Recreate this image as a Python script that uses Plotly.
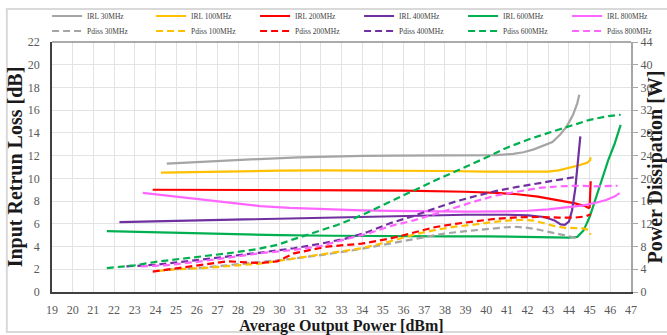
import plotly.graph_objects as go

# ---- Input return loss (left axis, dB) ----
irl30_x = [24.55, 26, 27.5, 29, 30.9, 32.5, 34, 35.5, 37, 39, 40.5, 41.3, 41.8, 42.3, 42.8, 43.2, 43.6, 43.9, 44.2, 44.4, 44.5]
irl30_y = [11.3, 11.45, 11.58, 11.7, 11.85, 11.93, 11.98, 12.0, 12.0, 12.0, 12.05, 12.15, 12.3, 12.55, 12.9, 13.2, 13.9, 14.6, 15.6, 16.6, 17.35]

irl100_x = [24.27, 26, 28, 30, 32, 34, 36, 38, 40, 42, 43.0, 43.5, 44.0, 44.5, 44.9, 45.02, 45.05]
irl100_y = [10.5, 10.57, 10.63, 10.68, 10.7, 10.7, 10.68, 10.65, 10.6, 10.58, 10.6, 10.7, 10.9, 11.15, 11.4, 11.6, 11.85]

irl200_x = [23.87, 26, 28, 30, 32, 34, 36, 37.5, 39, 40.5, 41.5, 42.5, 43.5, 44.3, 44.8, 44.95, 45.0, 45.03, 45.05]
irl200_y = [9.0, 9.0, 9.0, 8.98, 8.97, 8.95, 8.92, 8.88, 8.82, 8.72, 8.6, 8.4, 8.1, 7.8, 7.55, 7.4, 7.45, 8.8, 9.75]

irl400_x = [22.26, 24, 26, 28, 30, 32, 34, 35.35, 37, 39, 41, 42, 42.8, 43.3, 43.6, 43.8, 44.0, 44.15, 44.3, 44.45, 44.55]
irl400_y = [6.15, 6.22, 6.3, 6.38, 6.47, 6.56, 6.65, 6.7, 6.76, 6.8, 6.8, 6.75, 6.6, 6.3, 5.95, 5.9, 6.2, 7.2, 9.0, 11.5, 13.7]

irl600_x = [21.65, 23, 25, 27.5, 30, 32.5, 35.35, 38, 40, 42, 43, 43.5, 44.0, 44.4, 44.7, 45.0, 45.3, 45.6, 45.9, 46.2, 46.5]
irl600_y = [5.36, 5.3, 5.2, 5.08, 5.0, 4.95, 4.9, 4.9, 4.9, 4.87, 4.83, 4.83, 4.78, 4.85, 5.4, 6.6, 8.3, 10.0, 11.6, 13.0, 14.7]

irl800_x = [23.39, 24.5, 25.84, 27.5, 29.06, 30.5, 32.3, 34, 35.35, 37, 39, 41, 42, 43, 44, 44.7, 45.3, 45.8, 46.2, 46.45]
irl800_y = [8.72, 8.5, 8.22, 7.88, 7.56, 7.4, 7.26, 7.18, 7.14, 7.1, 7.08, 7.1, 7.15, 7.27, 7.45, 7.62, 7.85, 8.1, 8.4, 8.7]

# ---- Power dissipation (right axis, W) ----
pd30_x = [24.5, 26, 27.5, 29, 30.5, 32, 33.5, 35, 36, 37, 38, 39, 40, 41, 41.5, 42, 42.5, 43, 43.5, 44, 44.5]
pd30_y = [3.9, 4.2, 4.7, 5.2, 5.8, 6.5, 7.3, 8.3, 9.0, 9.7, 10.3, 10.7, 11.1, 11.4, 11.45, 11.3, 11.0, 10.6, 10.2, 9.8, 9.4]

pd100_x = [24.1, 25, 26.3, 27.9, 29.06, 30, 30.7, 32.3, 33.97, 35.35, 36.5, 37.5, 38.5, 39.5, 40.5, 41.3, 41.8, 42.3, 42.8, 43.3, 43.8, 44.3, 44.7, 44.95, 45.05]
pd100_y = [3.7, 4.0, 4.2, 4.6, 5.0, 5.5, 5.9, 6.8, 7.7, 8.9, 10.1, 10.9, 11.5, 11.9, 12.4, 12.65, 12.7, 12.55, 12.1, 11.6, 11.3, 11.2, 11.2, 10.9, 10.1]

pd200_x = [23.87, 25.8, 27.5, 28.5, 29.06, 29.9, 30.7, 32.3, 33.97, 35.35, 36.5, 37.5, 38.5, 39.5, 40.5, 41.5, 42.5, 43.5, 44.3, 44.8, 45.05]
pd200_y = [3.6, 4.5, 5.4, 5.2, 5.1, 5.4, 6.8, 8.0, 8.5, 9.4, 10.5, 11.4, 12.0, 12.5, 12.9, 13.15, 13.2, 13.1, 13.1, 13.3, 13.7]

pd400_x = [22.6, 24, 25.5, 27.5, 29, 30.7, 32, 33.2, 34.3, 35.35, 36.5, 37.5, 38.5, 39.5, 40.5, 41.5, 42.5, 43.5, 44.0, 44.4]
pd400_y = [4.5, 4.8, 5.4, 6.2, 6.9, 7.7, 8.5, 9.4, 10.6, 12.1, 13.4, 14.7, 15.9, 16.9, 17.8, 18.5, 19.1, 19.7, 20.1, 20.3]

pd600_x = [21.65, 23, 24.2, 25.8, 27.5, 29, 29.9, 30.7, 31.55, 32.8, 33.97, 35.4, 36.5, 37.5, 38.5, 39.5, 40.2, 41, 42, 43, 44, 45, 45.8, 46.5]
pd600_y = [4.2, 4.7, 5.4, 6.1, 6.8, 7.6, 8.3, 9.3, 10.3, 11.8, 13.5, 16.0, 17.9, 19.6, 21.2, 22.8, 24.0, 25.4, 26.8, 28.0, 29.2, 30.3, 30.9, 31.2]

pd800_x = [23.3, 24.5, 26, 27.5, 29, 30.7, 32, 33.2, 34.3, 35.35, 36.5, 37.5, 38.5, 39.5, 40.5, 41.5, 42.5, 43.5, 44.5, 45.3, 46, 46.35]
pd800_y = [4.5, 4.7, 5.3, 6.0, 6.8, 7.4, 8.1, 9.3, 10.3, 11.6, 12.6, 13.7, 14.9, 16.0, 17.0, 17.7, 18.3, 18.6, 18.7, 18.6, 18.6, 18.7]

freqs = ["30MHz", "100MHz", "200MHz", "400MHz", "600MHz", "800MHz"]
colors = ["#A5A5A5", "#FFC000", "#FF0000", "#7030A0", "#00B050", "#FF66FF"]

irl_series = [(irl30_x, irl30_y), (irl100_x, irl100_y), (irl200_x, irl200_y),
              (irl400_x, irl400_y), (irl600_x, irl600_y), (irl800_x, irl800_y)]
pd_series = [(pd30_x, pd30_y), (pd100_x, pd100_y), (pd200_x, pd200_y),
             (pd400_x, pd400_y), (pd600_x, pd600_y), (pd800_x, pd800_y)]

SERIF = "Liberation Serif"

fig = go.Figure()

# solid return-loss curves go in the first legend row
for f, c, (xs, ys) in zip(freqs, colors, irl_series):
    fig.add_trace(go.Scatter(
        x=xs, y=ys, mode="lines", name=f"IRL {f}", legend="legend",
        line=dict(color=c, width=2.2), yaxis="y"))

# dashed dissipation curves go in the second legend row
for f, c, (xs, ys) in zip(freqs, colors, pd_series):
    fig.add_trace(go.Scatter(
        x=xs, y=ys, mode="lines", name=f"Pdiss {f}", legend="legend2",
        line=dict(color=c, width=2.2, dash="7px,4px"), yaxis="y2"))

tickfont = dict(family=SERIF, size=12, color="#595959")
legend_style = dict(
    orientation="h", x=-0.0085, xanchor="left", yanchor="top",
    font=dict(family=SERIF, size=7.5, color="#404040"),
    entrywidth=59, entrywidthmode="pixels",
    bgcolor="rgba(0,0,0,0)", itemclick=False,
)

fig.update_layout(
    width=667, height=335,
    margin=dict(l=52, r=36, t=42, b=43, autoexpand=False),
    paper_bgcolor="white", plot_bgcolor="white",
    font=dict(family=SERIF),
    xaxis=dict(
        range=[19, 47], dtick=1, tick0=19,
        showgrid=True, gridcolor="#E3E3E3", gridwidth=1,
        showline=True, linecolor="#404040", linewidth=1.5, mirror=False,
        ticks="outside", ticklen=6, tickcolor="rgba(0,0,0,0)",
        tickfont=tickfont, zeroline=False,
        title=dict(text="<b>Average Output Power [dBm]</b>",
                   font=dict(family=SERIF, size=16, color="#1a1a1a"), standoff=4),
    ),
    yaxis=dict(
        range=[0, 22], dtick=2,
        showgrid=True, gridcolor="#E3E3E3", gridwidth=1,
        showline=True, linecolor="#404040", linewidth=1.5,
        ticks="outside", ticklen=8, tickcolor="rgba(0,0,0,0)",
        tickfont=tickfont, zeroline=False,
        title=dict(text="<b>Input Retrun Loss [dB]</b>",
                   font=dict(family=SERIF, size=20, color="#1a1a1a"), standoff=0),
    ),
    yaxis2=dict(
        range=[0, 44], dtick=4, overlaying="y", side="right",
        showgrid=False, zeroline=False,
        showline=True, linecolor="#A6A6A6", linewidth=2,
        ticks="outside", ticklen=5, tickcolor="#A6A6A6", tickwidth=1,
        tickfont=tickfont,
        title=dict(text="<b>Power Dissipation [W]</b>",
                   font=dict(family=SERIF, size=20, color="#1a1a1a"), standoff=14),
    ),
    legend=dict(legend_style, y=1.162),
    legend2=dict(legend_style, y=1.102),
    shapes=[
        # plot-area top edge
        dict(type="line", xref="paper", yref="paper", x0=0, x1=1, y0=1, y1=1,
             line=dict(color="#595959", width=1)),
        # chart frame
        dict(type="rect", xref="paper", yref="paper", x0=-0.078, x1=1.1, y0=-0.16, y1=1.132,
             line=dict(color="#D9D9D9", width=2), layer="below"),
    ],
)

fig.write_html("out.html")
